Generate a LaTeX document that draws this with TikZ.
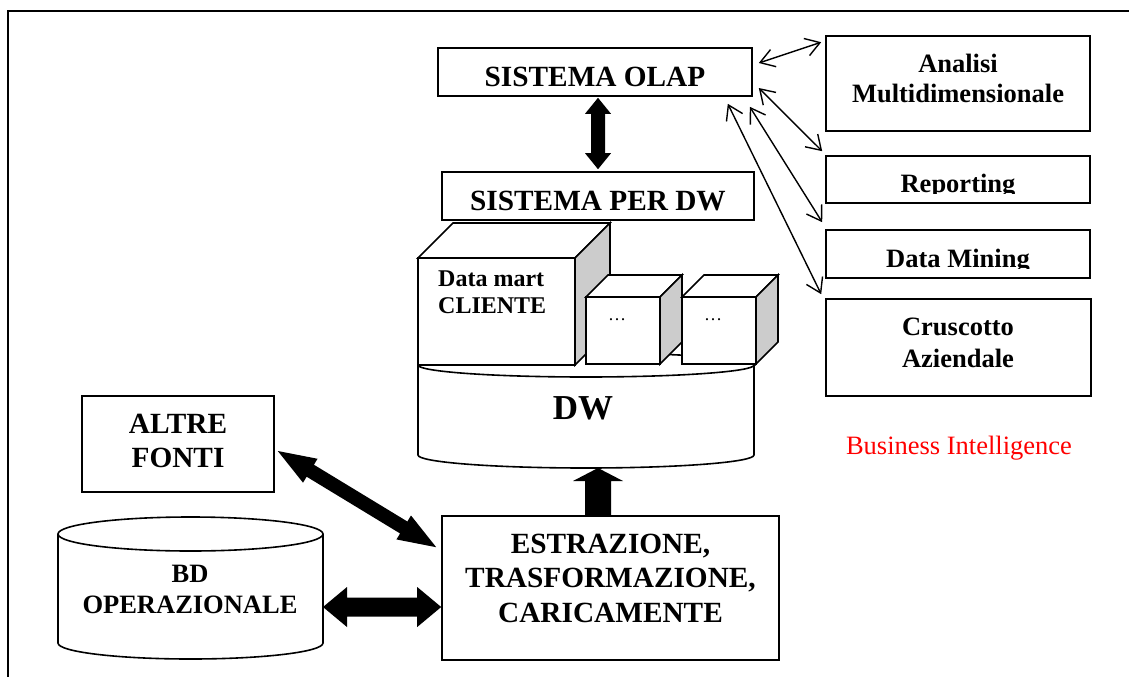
\documentclass[tikz,border=0pt]{standalone}
\usepackage{fontspec}
\setmainfont{Liberation Serif}
\usetikzlibrary{arrows.meta,calc}
\definecolor{sidegray}{gray}{0.8}
\definecolor{birred}{rgb}{1,0,0}

% filled double-headed block arrow between two tips
% #1,#2 tips; #3 half shaft width; #4 head length; #5 half head width
\newcommand\fatboth[5]{%
  \coordinate (fa-p) at ($(#1)!#4!(#2)$);
  \coordinate (fa-q) at ($(#2)!#4!(#1)$);
  \fill (#1) -- ($(fa-p)!#5!90:(#2)$) -- ($(fa-p)!#3!90:(#2)$)
        -- ($(fa-q)!#3!-90:(#1)$) -- ($(fa-q)!#5!-90:(#1)$) -- (#2)
        -- ($(fa-q)!#5!90:(#1)$) -- ($(fa-q)!#3!90:(#1)$)
        -- ($(fa-p)!#3!-90:(#2)$) -- ($(fa-p)!#5!-90:(#2)$) -- cycle;
}
% filled single-headed block arrow from #1 to tip #2
\newcommand\fatone[5]{%
  \coordinate (fa-q) at ($(#2)!#4!(#1)$);
  \fill ($(#1)!#3!90:(#2)$) -- ($(fa-q)!#3!-90:(#1)$) -- ($(fa-q)!#5!-90:(#1)$)
        -- (#2) -- ($(fa-q)!#5!90:(#1)$) -- ($(fa-q)!#3!90:(#1)$)
        -- ($(#1)!#3!-90:(#2)$) -- cycle;
}
% cube: name, front top-left x, y, width, height, depth
\newcommand\martcube[6]{%
  \coordinate (#1) at (#2,#3);
  \filldraw[fill=white] (#1) rectangle ++(#4,#5);
  \filldraw[fill=white] (#1) -- ++(#6,-#6) -- ++(#4,0) -- ++(-#6,#6) -- cycle;
  \filldraw[fill=sidegray] ($(#1)+(#4,0)$) -- ++(#6,-#6) -- ++(0,#5) -- ++(-#6,#6) -- cycle;
}

\begin{document}
\begin{tikzpicture}[x=1pt,y=-1pt,
  line join=miter,
  box/.style={draw, line width=1.6pt, fill=white, inner sep=0pt, rectangle},
  lbl/.style={anchor=base, inner sep=0pt, font=\fontsize{26.5}{30}\selectfont\bfseries},
  lblbig/.style={anchor=base, inner sep=0pt, font=\fontsize{29.3}{34}\selectfont\bfseries},
  lblmart/.style={anchor=base west, inner sep=0pt, font=\fontsize{24}{27}\selectfont\bfseries},
  dots/.style={anchor=base, inner sep=0pt, font=\fontsize{18}{20}\selectfont},
  barb/.style={line width=1.4pt, {Straight Barb[length=14pt,width=18pt]}-{Straight Barb[length=14pt,width=18pt]}}
]
\useasboundingbox (0,0) rectangle (1129,677);

% page frame
\draw[line width=2pt] (1129,11) -- (8,11) -- (8,677);

% upper systems
\node[box, minimum width=314pt, minimum height=48pt] (olap) at (595,72) {};
\node[lblbig] (olap-t) at (595,86) {SISTEMA OLAP};
\node[box, minimum width=312pt, minimum height=48pt] (dwsys) at (598,196) {};
\node[lblbig] (dwsys-t) at (598,210) {SISTEMA PER DW};

% business intelligence tools
\node[box, minimum width=264pt, minimum height=95pt] (ana) at (958,83.5) {};
\node[lbl] (ana-t1) at (958,72) {Analisi};
\node[lbl] (ana-t2) at (958,102) {Multidimensionale};
\node[box, minimum width=264pt, minimum height=47pt] (rep) at (958,179.5) {};
\node[box, minimum width=264pt, minimum height=48pt] (dm) at (958,254) {};
\begin{scope}
  \clip (rep.north west) rectangle ($(rep.south east)+(0,-10)$);
  \node[lbl] (rep-t) at (958,192) {Reporting};
\end{scope}
\begin{scope}
  \clip (dm.north west) rectangle ($(dm.south east)+(0,-10)$);
  \node[lbl] (dm-t) at (958,267) {Data Mining};
\end{scope}
\node[box, minimum width=265pt, minimum height=97pt] (cru) at (958.5,347.5) {};
\node[lbl] (cru-t1) at (958,335) {Cruscotto};
\node[lbl] (cru-t2) at (958,367) {Aziendale};
\node[anchor=base, inner sep=0pt, text=birred, font=\fontsize{26.5}{30}\selectfont] (bi) at (959,454) {Business Intelligence};

% links between OLAP and the tools
\draw[barb] ([shift={(6,-9)}]olap.east) -- ([shift={(-4,7)}]ana.north west);
\draw[barb] ([shift={(6,16)}]olap.east) -- ([shift={(-3,-4)}]rep.north west);
\draw[barb] ([shift={(-3,10)}]olap.south east) -- ([shift={(-3,-7)}]dm.north west);
\draw[barb] ([shift={(-25,7)}]olap.south east) -- ([shift={(-4,-4)}]cru.north west);

% data warehouse drum
\coordinate (dw) at (586,365);
\filldraw[line width=1.6pt, fill=white]
  (418,365) -- (418,455) arc[start angle=180, end angle=360, x radius=168pt, y radius=13pt]
  -- (754,365) arc[start angle=0, end angle=180, x radius=168pt, y radius=12pt] -- cycle;
\draw[line width=1.6pt] (418,365) arc[start angle=180, end angle=360, x radius=168pt, y radius=12pt];
\node[anchor=base, inner sep=0pt, font=\fontsize{35}{40}\selectfont\bfseries] (dw-t) at (583,419) {DW};
\coordinate (dwbase) at (598,468);

% data marts
\begin{scope}[line width=1.6pt]
  \martcube{cubeA}{418}{258}{157}{107}{35}
  \martcube{cubeB}{586}{297}{74}{67}{22}
  \martcube{cubeC}{682}{297}{74}{67}{22}
\end{scope}
\node[lblmart] (mart-t1) at (438,286) {Data mart};
\node[lblmart] (mart-t2) at (438,313) {CLIENTE};
\node[dots] (dotsB) at (617,320) {\dots};
\node[dots] (dotsC) at (713,320) {\dots};

% sources
\node[box, minimum width=192pt, minimum height=96pt] (altre) at (178,444) {};
\node[lblbig] (altre-t1) at (178,433) {ALTRE};
\node[lblbig] (altre-t2) at (178,467) {FONTI};

\coordinate (bd) at (190.5,534);
\filldraw[line width=1.6pt, fill=white]
  (58,534) -- (58,643) arc[start angle=180, end angle=360, x radius=132.5pt, y radius=16pt]
  -- (323,534) arc[start angle=0, end angle=180, x radius=132.5pt, y radius=17pt] -- cycle;
\draw[line width=1.6pt] (58,534) arc[start angle=180, end angle=360, x radius=132.5pt, y radius=17pt];
\node[lbl] (bd-t1) at (190,582) {BD};
\node[lbl] (bd-t2) at (190,613) {OPERAZIONALE};
\coordinate (bdside) at ($(bd)+(132.5,73)$);

% extraction, transformation, loading
\node[box, minimum width=337pt, minimum height=144pt] (etl) at (610.5,588) {};
\node[lblbig] (etl-t1) at (610.5,553) {ESTRAZIONE,};
\node[lblbig] (etl-t2) at (610.5,587) {TRASFORMAZIONE,};
\node[lblbig] (etl-t3) at (610.5,622) {CARICAMENTE};

% block arrows
\coordinate (olapfoot) at ([shift={(3,1)}]olap.south);
\coordinate (dwsyshead) at ([shift={(0,-2)}]dwsys.north);
\fatboth{olapfoot}{dwsyshead}{7pt}{16pt}{13pt}

\coordinate (etltop) at ([shift={(-12.5,0)}]etl.north);
\fatone{etltop}{dwbase}{13pt}{13pt}{25pt}

\coordinate (altreside) at ([shift={(3,7)}]altre.east);
\coordinate (etlcorner) at ([shift={(-5,32)}]etl.north west);
\fatboth{altreside}{etlcorner}{7pt}{38pt}{14pt}

\coordinate (etlside) at ([shift={(0,19)}]etl.west);
\fatboth{bdside}{etlside}{9.5pt}{24pt}{20pt}
\end{tikzpicture}
\end{document}
